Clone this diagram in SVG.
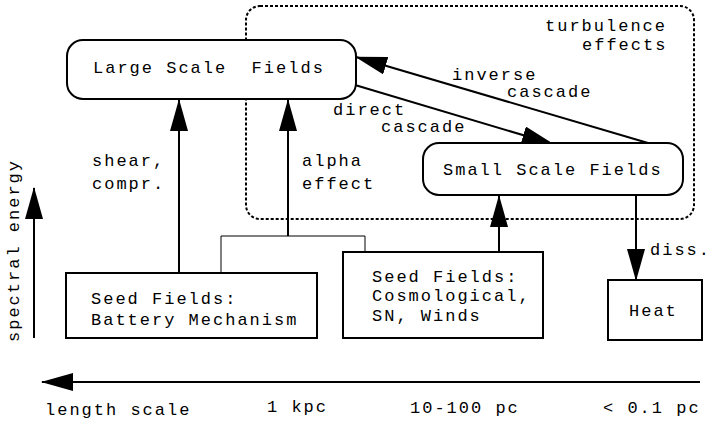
<svg xmlns="http://www.w3.org/2000/svg" width="710" height="421" viewBox="0 0 710 421">
<defs>
<marker id="ah" markerUnits="userSpaceOnUse" markerWidth="32" markerHeight="18" viewBox="0 0 32 18" refX="31" refY="9" orient="auto">
<path d="M0,0 L32,9 L0,18 Z" fill="#000"/>
</marker>
</defs>
<style>
text{font-family:"Liberation Mono","Courier New",monospace;font-size:17px;letter-spacing:2px;fill:#000;white-space:pre}
.box{fill:#fff;stroke:#000;stroke-width:2}
.arr{fill:none;stroke:#000;stroke-width:2;marker-end:url(#ah)}
.thin{fill:none;stroke:#000;stroke-width:1}
.dot{fill:none;stroke:#000;stroke-width:2;stroke-dasharray:3,2}
</style>
<rect fill="#fff" width="710" height="421"/>
<g id="turbulence">
<rect class="dot" x="246" y="6" width="448" height="213" rx="14"/>
<text x="545" y="31">turbulence</text>
<text x="582" y="50">effects</text>
</g>
<g id="connectors">
<path class="arr" d="M179,273 V100"/>
<path class="arr" d="M288,236 V100"/>
<path class="thin" d="M221,273 V236 H365 V252"/>
<path class="arr" d="M499,252 V196"/>
<path class="arr" d="M636,195 V280"/>
<path class="arr" d="M355,85 L553,144"/>
<path class="arr" d="M648,143 L356,57"/>
<path class="arr" d="M34,338 V188"/>
<path class="arr" d="M700,382 H42"/>
</g>
<g id="labels">
<text x="92" y="166">shear,</text>
<text x="92" y="189">compr.</text>
<text x="302" y="166">alpha</text>
<text x="302" y="189">effect</text>
<text x="333" y="115">direct</text>
<text x="381" y="132">cascade</text>
<text x="452" y="80">inverse</text>
<text x="507" y="97">cascade</text>
<text x="650" y="255">diss.</text>
<text transform="translate(19,342) rotate(-90)">spectral energy</text>
<text x="45" y="415">length scale</text>
<text x="267" y="412">1 kpc</text>
<text x="410" y="413">10-100 pc</text>
<text x="603" y="413">&lt; 0.1 pc</text>
</g>
<g id="large">
<rect class="box" x="67" y="40" width="289" height="59" rx="16"/>
<text x="93" y="73">Large Scale  Fields</text>
</g>
<g id="small">
<rect class="box" x="423" y="143" width="260" height="52" rx="16"/>
<text x="443" y="175">Small Scale Fields</text>
</g>
<g id="seed1">
<rect class="box" x="66" y="273" width="251" height="65"/>
<text x="91" y="304">Seed Fields:</text>
<text x="91" y="325">Battery Mechanism</text>
</g>
<g id="seed2">
<rect class="box" x="343" y="252" width="200" height="86"/>
<text x="372" y="282">Seed Fields:</text>
<text x="372" y="301">Cosmological,</text>
<text x="372" y="321">SN, Winds</text>
</g>
<g id="heat">
<rect class="box" x="608" y="280" width="94" height="60"/>
<text x="629" y="316">Heat</text>
</g>
</svg>
